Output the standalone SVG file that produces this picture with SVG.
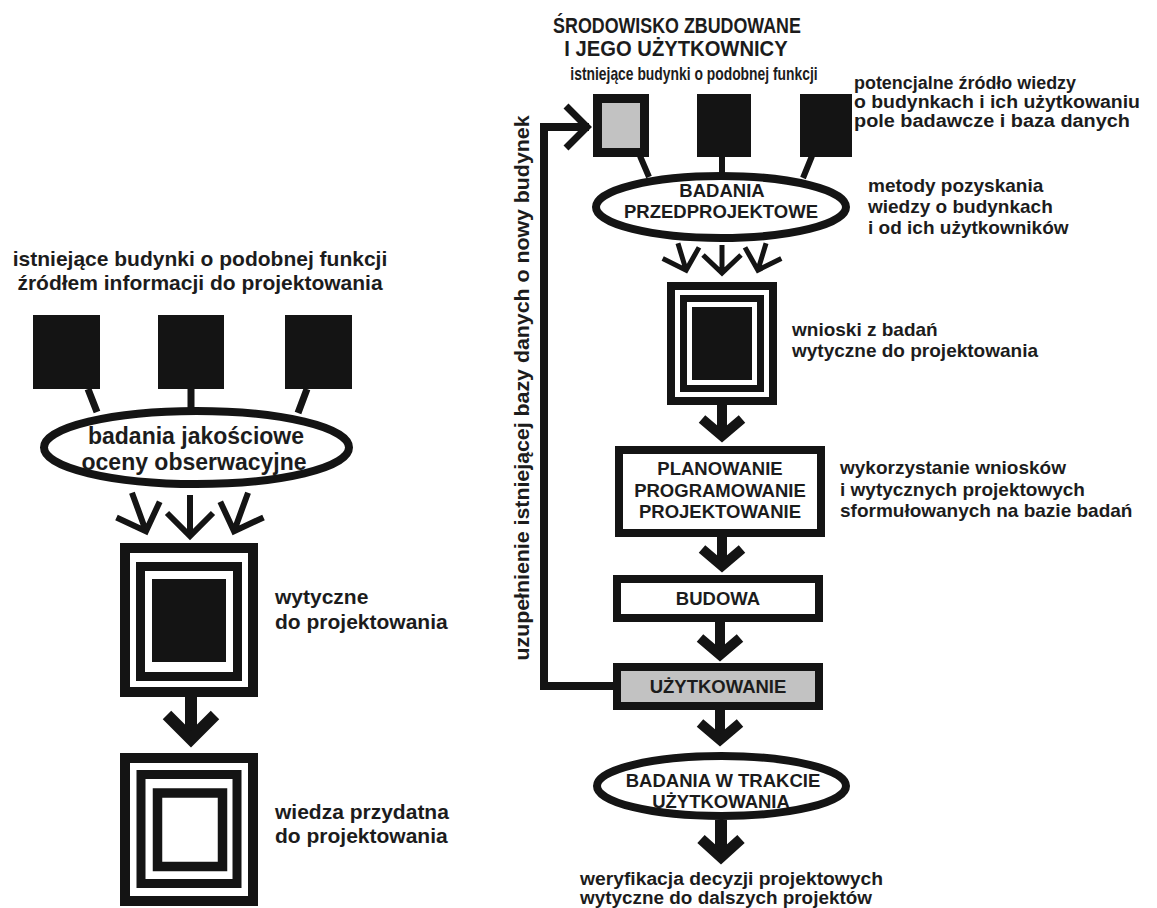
<svg xmlns="http://www.w3.org/2000/svg" xmlns:xlink="http://www.w3.org/1999/xlink" width="1157" height="908" viewBox="0 0 1157 908">
  <style>
    .ink{fill:#141414}
    .grey{fill:#c2c2c2}
    .line{fill:none;stroke:#141414;stroke-linejoin:miter;stroke-linecap:butt}
    .t{font-family:"Liberation Sans",Arial,"DejaVu Sans",sans-serif;font-weight:bold;fill:#1c1c1c}
    .mid{text-anchor:middle}
  </style>
  <defs>
    <!-- thin open arrows (tip at origin, pointing down) -->
    <path id="thin-big" class="line" stroke-width="6" d="M0,-44 V-3 M-23,-26 L0,-3 L23,-26"/>
    <path id="thin-small" class="line" stroke-width="5" d="M0,-31 V-3 M-19,-21 L0,-3 L19,-21"/>
    <!-- heavy chevron heads -->
    <path id="chev-big" class="line" stroke-width="12" d="M-24,-32 L0,-8 L24,-32"/>
    <path id="chev-small" class="line" stroke-width="10" d="M-20,-24 L0,-7 L20,-24"/>
    <path id="chev-end" class="line" stroke-width="11" d="M-20,-26 L0,-8 L20,-26"/>
  </defs>

  <!-- ===== left scheme ===== -->
  <g id="left-sources">
    <text class="t mid" x="200" y="266" font-size="21">istniejące budynki o podobnej funkcji</text>
    <text class="t mid" x="200" y="290" font-size="21">źródłem informacji do projektowania</text>
    <rect class="ink" x="33" y="315" width="67" height="74"/>
    <rect class="ink" x="158" y="315" width="66" height="74"/>
    <rect class="ink" x="285" y="315" width="67" height="74"/>
  </g>

  <g id="left-survey">
    <ellipse cx="196.5" cy="447.5" rx="152.5" ry="36.5" fill="#fff" stroke="#141414" stroke-width="8"/>
    <text class="t mid" x="196" y="444" font-size="23">badania jakościowe</text>
    <text class="t mid" x="194" y="470" font-size="23">oceny obserwacyjne</text>
  </g>

  <g id="left-guidelines">
    <rect class="line" stroke-width="10" x="125" y="548" width="128" height="144"/>
    <rect class="line" stroke-width="9" x="140.5" y="566.5" width="97" height="110"/>
    <rect class="ink" x="152" y="579" width="74" height="83"/>
    <text class="t" x="275" y="604" font-size="21">wytyczne</text>
    <text class="t" x="275" y="629" font-size="21">do projektowania</text>
  </g>

  <g id="left-knowledge">
    <rect class="line" stroke-width="10" x="125" y="758" width="128" height="143"/>
    <rect class="line" stroke-width="9" x="141" y="774.5" width="96" height="109"/>
    <rect class="line" stroke-width="9.5" x="157.5" y="793" width="65" height="73.5"/>
    <text class="t" x="275" y="819" font-size="21">wiedza przydatna</text>
    <text class="t" x="275" y="843" font-size="21">do projektowania</text>
  </g>

  <!-- ===== right scheme ===== -->
  <g id="right-title">
    <text class="t mid" transform="translate(677,33) scale(0.83,1)" font-size="21.5">ŚRODOWISKO ZBUDOWANE</text>
    <text class="t mid" transform="translate(676,56) scale(0.94,1)" font-size="21.5">I JEGO UŻYTKOWNICY</text>
  </g>

  <g id="right-sources">
    <text class="t mid" transform="translate(694,80) scale(0.75,1)" font-size="18.5">istniejące budynki o podobnej funkcji</text>
    <rect class="grey" x="597.5" y="98.5" width="47" height="54" stroke="#141414" stroke-width="9"/>
    <rect class="ink" x="697" y="94" width="54" height="63"/>
    <rect class="ink" x="800" y="94" width="52" height="63"/>
    <text class="t" x="854" y="89" font-size="17.5" textLength="222" lengthAdjust="spacingAndGlyphs">potencjalne źródło wiedzy</text>
    <text class="t" x="854" y="108" font-size="17.5" textLength="286" lengthAdjust="spacingAndGlyphs">o budynkach i ich użytkowaniu</text>
    <text class="t" x="854" y="127" font-size="17.5" textLength="276" lengthAdjust="spacingAndGlyphs">pole badawcze i baza danych</text>
  </g>

  <g id="pre-design">
    <ellipse cx="721" cy="207" rx="125" ry="31" fill="#fff" stroke="#141414" stroke-width="8"/>
    <text class="t mid" x="722" y="197" font-size="18.5">BADANIA</text>
    <text class="t mid" x="721" y="218" font-size="18.5">PRZEDPROJEKTOWE</text>
    <text class="t" x="868" y="192" font-size="19">metody pozyskania</text>
    <text class="t" x="868" y="213" font-size="19">wiedzy o budynkach</text>
    <text class="t" x="868" y="234" font-size="19">i od ich użytkowników</text>
  </g>

  <g id="findings">
    <rect class="line" stroke-width="8" x="671" y="286" width="102" height="115"/>
    <rect class="line" stroke-width="7" x="683.5" y="298.5" width="77" height="90"/>
    <rect class="ink" x="692" y="307" width="60" height="73"/>
    <text class="t" x="792" y="336" font-size="19">wnioski z badań</text>
    <text class="t" x="792" y="357" font-size="19">wytyczne do projektowania</text>
  </g>

  <g id="planning">
    <rect x="619" y="450" width="202" height="83" fill="#fff" stroke="#141414" stroke-width="8"/>
    <text class="t mid" x="720" y="475" font-size="18.5">PLANOWANIE</text>
    <text class="t mid" x="720" y="497" font-size="18.5">PROGRAMOWANIE</text>
    <text class="t mid" x="720" y="518" font-size="18.5">PROJEKTOWANIE</text>
    <text class="t" x="840" y="474" font-size="19">wykorzystanie wniosków</text>
    <text class="t" x="840" y="496" font-size="19">i wytycznych projektowych</text>
    <text class="t" x="840" y="517" font-size="19">sformułowanych na bazie badań</text>
  </g>

  <g id="construction">
    <rect x="617" y="579" width="202" height="39" fill="#fff" stroke="#141414" stroke-width="8"/>
    <text class="t mid" x="718" y="605" font-size="18.5">BUDOWA</text>
  </g>

  <g id="use">
    <rect class="grey" x="617" y="667" width="202" height="39" stroke="#141414" stroke-width="8"/>
    <text class="t mid" x="718" y="693" font-size="18.5">UŻYTKOWANIE</text>
  </g>

  <g id="post-occupancy">
    <ellipse cx="721.5" cy="786" rx="124.5" ry="30" fill="#fff" stroke="#141414" stroke-width="8"/>
    <text class="t mid" x="723" y="787" font-size="18.5">BADANIA W TRAKCIE</text>
    <text class="t mid" x="721" y="808" font-size="18.5">UŻYTKOWANIA</text>
    <text class="t" x="580" y="885" font-size="17.5" textLength="303" lengthAdjust="spacingAndGlyphs">weryfikacja decyzji projektowych</text>
    <text class="t" x="580" y="904" font-size="17.5" textLength="292" lengthAdjust="spacingAndGlyphs">wytyczne do dalszych projektów</text>
  </g>

  <!-- ===== connectors ===== -->
  <g id="connectors">
    <!-- left: sources to survey -->
    <path class="line" stroke-width="7" d="M88,389 L97,412 M191,389 V409 M307,389 L298,413"/>
    <!-- left: survey to guidelines -->
    <use xlink:href="#thin-big" href="#thin-big" transform="translate(147,534) rotate(-20)"/>
    <use xlink:href="#thin-big" href="#thin-big" transform="translate(190,539)"/>
    <use xlink:href="#thin-big" href="#thin-big" transform="translate(233,534) rotate(20)"/>
    <!-- left: guidelines to knowledge -->
    <path class="line" stroke-width="12" d="M191,697 V740"/>
    <use xlink:href="#chev-big" href="#chev-big" transform="translate(191,747)"/>

    <!-- right: sources to pre-design research -->
    <path class="line" stroke-width="6" d="M640,156 L649,177 M722,156 V176 M812,156 L803,178"/>
    <use xlink:href="#thin-small" href="#thin-small" transform="translate(687,273) rotate(-17)"/>
    <use xlink:href="#thin-small" href="#thin-small" transform="translate(722,276)"/>
    <use xlink:href="#thin-small" href="#thin-small" transform="translate(757,273) rotate(17)"/>

    <!-- right: main flow -->
    <path class="line" stroke-width="10" d="M722,405 V438 M722,537 V568 M720,622 V657 M720,710 V742"/>
    <use xlink:href="#chev-small" href="#chev-small" transform="translate(722,443)"/>
    <use xlink:href="#chev-small" href="#chev-small" transform="translate(722,573)"/>
    <use xlink:href="#chev-small" href="#chev-small" transform="translate(720,662)"/>
    <use xlink:href="#chev-small" href="#chev-small" transform="translate(720,747)"/>
    <path class="line" stroke-width="12" d="M721,820 V858"/>
    <use xlink:href="#chev-end" href="#chev-end" transform="translate(721,865)"/>

    <!-- feedback: use back to the building stock -->
    <path class="line" stroke-width="8" d="M613,686 H544 V127 H589"/>
    <path class="line" stroke-width="7" d="M566,106 L587,127 L566,148"/>
    <text class="t mid" transform="translate(529,388) rotate(-90)" font-size="21" textLength="545" lengthAdjust="spacingAndGlyphs">uzupełnienie istniejącej bazy danych o nowy budynek</text>
  </g>
</svg>
